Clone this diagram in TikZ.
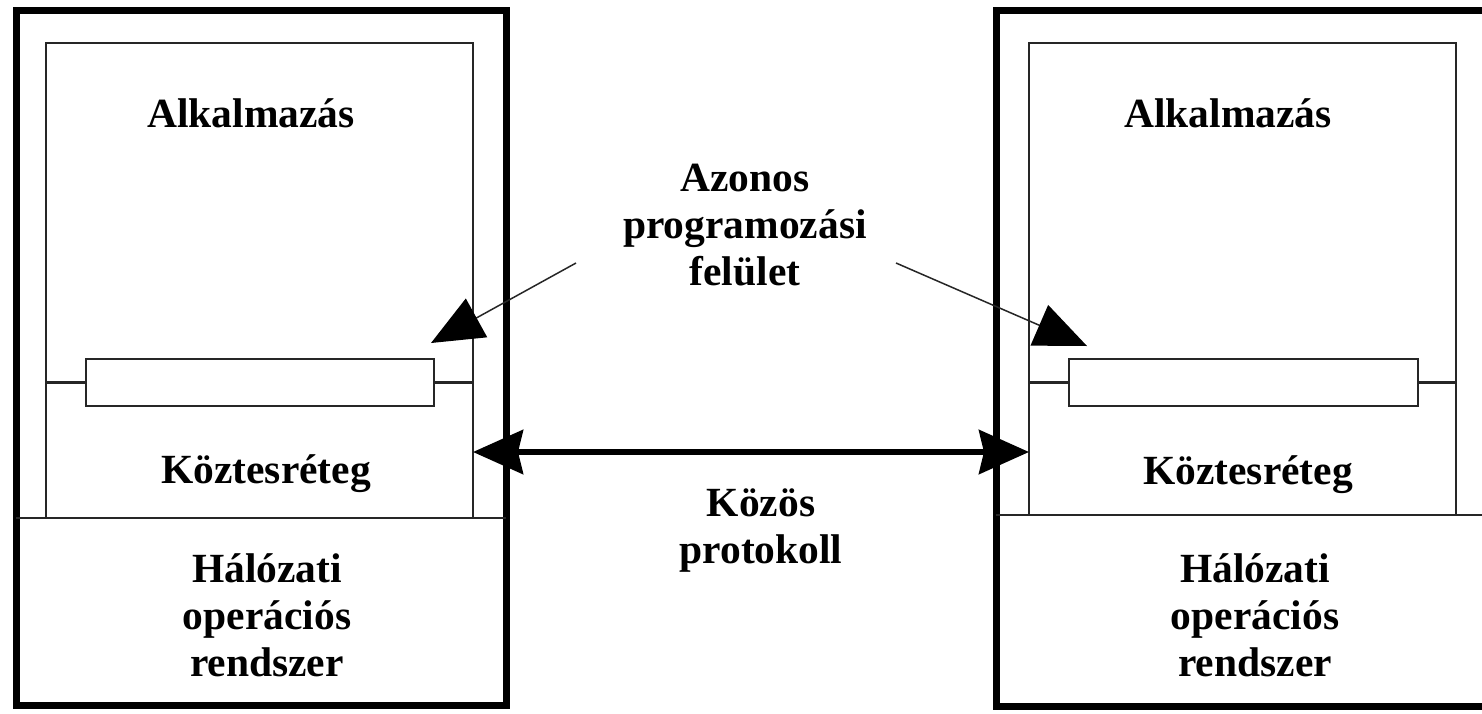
\documentclass[tikz,border=0pt]{standalone}
\usepackage{fontspec}
\setmainfont{Liberation Serif}
\usetikzlibrary{arrows.meta}

\begin{document}
\begin{tikzpicture}[x=1pt, y=-1pt,
  box/.style={inner sep=0pt, outer sep=0pt},
  outerbox/.style={box, draw=black, line width=7pt},
  layerbox/.style={box, draw=black!85, line width=2.5pt},
  thinline/.style={draw=black!85, line width=2.5pt},
  lbl/.style={font=\fontsize{41.5}{47}\selectfont\bfseries, align=center, anchor=base, inner sep=0pt},
  proto/.style={line width=6pt, {Stealth[length=50pt, width=44pt, inset=5pt]}-{Stealth[length=50pt, width=44pt, inset=5pt]}},
  api/.style={line width=1.5pt, black!85, -{Triangle[length=52pt, width=44pt, color=black]}}]

  % canvas
  \useasboundingbox (0,0) rectangle (1482,713);
  \fill[white] (0,0) rectangle (1482,713);

  % left host
  \node[outerbox, minimum width=490pt, minimum height=695pt] (outerL) at (261,357.5) {};
  \node[layerbox, minimum width=427pt, minimum height=475pt] (innerL) at (259.5,280.5) {};
  \draw[thinline] (outerL.west |- innerL.south) -- (outerL.east |- innerL.south);
  \node[layerbox, fill=white, minimum width=348pt, minimum height=47pt] (barL) at (260,382.5) {};
  \draw[thinline] (innerL.west |- barL.west) -- (barL.west);
  \draw[thinline] (barL.east) -- (innerL.east |- barL.east);

  % right host (its right edge runs off the page)
  \node[outerbox, minimum width=490pt, minimum height=696pt] (outerR) at (1241,358) {};
  \node[layerbox, minimum width=427pt, minimum height=472pt] (innerR) at (1242.5,279) {};
  \draw[thinline] (outerR.west |- innerR.south) -- (outerR.east |- innerR.south);
  \node[layerbox, fill=white, minimum width=349pt, minimum height=47pt] (barR) at (1243.5,382.5) {};
  \draw[thinline] (innerR.west |- barR.west) -- (barR.west);
  \draw[thinline] (barR.east) -- (innerR.east |- barR.east);

  % layer labels (multi-line labels sit on the baseline of their last line)
  \node[lbl] (appL) at (251,127) {Alkalmazás};
  \node[lbl] (midL) at (266,483) {Köztesréteg};
  \node[lbl] (nosL) at (267,676) {Hálózati\\operációs\\rendszer};
  \node[lbl] (appR) at (1228,127) {Alkalmazás};
  \node[lbl] (midR) at (1248,484) {Köztesréteg};
  \node[lbl] (nosR) at (1255,676) {Hálózati\\operációs\\rendszer};

  % common interface and protocol
  \node[lbl] (api) at (745,285) {Azonos\\programozási\\felület};
  \node[lbl] (prot) at (761,563) {Közös\\protokoll};

  \coordinate (apiFromL) at (576,263);
  \coordinate (apiFromR) at (896,263);
  \coordinate (apiToL) at (431,343);
  \coordinate (apiToR) at (1087,346);
  \draw[api] (apiFromL) -- (apiToL);
  \draw[api] (apiFromR) -- (apiToR);

  \draw[proto] (innerL.east |- 0,452) -- (innerR.west |- 0,452);
\end{tikzpicture}
\end{document}
